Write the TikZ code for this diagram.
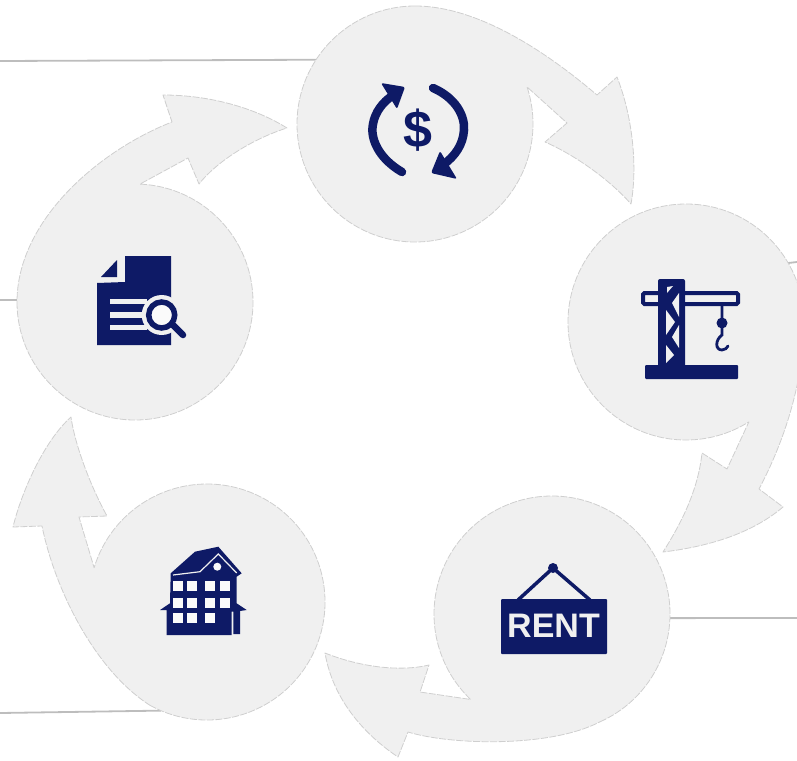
\documentclass[tikz,border=0pt]{standalone}
\usepackage{fontspec}
\setmainfont{Liberation Sans}
\definecolor{navy}{HTML}{0E1A66}
\definecolor{pale}{HTML}{F0F0F0}
\definecolor{rim}{HTML}{CFCFCF}
\definecolor{rule}{HTML}{BDBDBD}
\tikzset{
  unit/.style={fill=pale,draw=rim,line width=0.8pt,dash pattern=on 7pt off 1.5pt,line join=round},
  hub/.style={circle,minimum size=236pt,inner sep=0pt,outer sep=0pt},
  rulerline/.style={draw=rule,line width=1.8pt},
  ink/.style={fill=navy,draw=none},
  inkline/.style={draw=navy,line cap=round},
  hole/.style={fill=pale,draw=none},
  lighthole/.style={fill=white!70!pale,draw=none}
}
\begin{document}
\begin{tikzpicture}[x=1pt,y=-1pt]
\useasboundingbox (0,0) rectangle (797,760);
\clip (0,0) rectangle (797,760);
% hubs
\node[hub] (c1) at (415,124) {};
\node[hub] (c2) at (686,322) {};
\node[hub] (c3) at (552,614) {};
\node[hub] (c4) at (207,602) {};
\node[hub] (c5) at (135,302) {};
% rules
\coordinate (l1) at (0,61);
\coordinate (l2) at (797,262);
\coordinate (l3) at (0,300);
\coordinate (l4) at (797,618);
\coordinate (l5) at (0,713);
\draw[rulerline] (l1) -- (c1.147.7);
\draw[rulerline] (l2) -- (c2.30.6);
\draw[rulerline] (l3) -- (c5.179);
\draw[rulerline] (l4) -- (c3.-2);
\draw[rulerline] (l5) -- (c4.247.6);
% circle + arrow units
\path[unit] (415,6) arc[start angle=270,end angle=-18.3,radius=118]
  -- (567,123) -- (545,142)
  .. controls (575,155) and (610,180) .. (631,204)
  .. controls (638,165) and (632,115) .. (617,77)
  -- (597,95)
  .. controls (550,55) and (480,6) .. (415,6) -- cycle;
\path[unit] (804,322) arc[start angle=0,end angle=-302.2,radius=118]
  -- (727,469) -- (702,453)
  .. controls (698,490) and (682,522) .. (663,552)
  .. controls (705,547) and (750,535) .. (783,507)
  -- (759,489)
  .. controls (785,440) and (804,380) .. (804,322) -- cycle;
\path[unit] (600,721.8) arc[start angle=66,end angle=-226.4,radius=118]
  -- (420,692) -- (429,665)
  .. controls (400,672) and (360,667) .. (325,653)
  .. controls (333,700) and (365,735) .. (398,757)
  -- (408,732)
  .. controls (450,745) and (550,748) .. (600,721.8) -- cycle;
\path[unit] (149.8,705.2) arc[start angle=119,end angle=-163.1,radius=118]
  -- (79,517) -- (107,516)
  .. controls (90,485) and (75,445) .. (71,417)
  .. controls (45,440) and (22,490) .. (13,527)
  -- (42,526)
  .. controls (55,590) and (95,670) .. (149.8,705.2) -- cycle;
\path[unit] (17,302) arc[start angle=180,end angle=-87.6,radius=118]
  -- (188,158) -- (199,184)
  .. controls (218,160) and (255,138) .. (287,128)
  .. controls (255,108) and (210,95) .. (163,95)
  -- (172,122)
  .. controls (100,150) and (17,220) .. (17,302) -- cycle;
% icon 1: dollar refresh
\draw[inkline,line width=8.5pt] (402,172) .. controls (378,158) and (370,138) .. (373,124) .. controls (375,112) and (383,102) .. (392,96);
\fill[ink,rounded corners=2pt] (381,83) -- (405,87) -- (397,109) -- cycle;
\draw[inkline,line width=8.5pt] (433,88) .. controls (456,98) and (465,116) .. (464,130) .. controls (463,145) and (455,156) .. (443,165);
\fill[ink,rounded corners=2pt] (457,179) -- (431,173) -- (440,151) -- cycle;
\node[text=navy,font=\bfseries\fontsize{52}{52}\selectfont,inner sep=0pt] (dollar) at (418,130) {\$};
% icon 2: crane
\draw[draw=navy,line width=4pt,rounded corners=1.5pt,fill=pale] (643,293) rectangle (738,304);
\fill[ink,rounded corners=2pt] (658,279) rectangle (685,368);
\fill[hole] (667,287) -- (673,286) -- (667,293) -- cycle;
\fill[hole] (679,293) -- (679,317) -- (672,303) -- cycle;
\fill[hole] (666,310) -- (675,322) -- (666,335) -- cycle;
\fill[hole] (679,325) -- (679,348) -- (672,337) -- cycle;
\fill[hole] (666,345) -- (674,355) -- (666,363) -- cycle;
\fill[ink,rounded corners=1pt] (645,365) rectangle (738,379);
\draw[inkline,line width=2.8pt] (722,305) -- (722,335) .. controls (715,340) and (715,350) .. (722,350) .. controls (725,350) and (727,348) .. (728,346);
\fill[ink] (722,323) circle (5.5);
% icon 3: rent
\draw[draw=navy,line width=3.5pt,line join=round] (518,600) -- (553,568) -- (590,600);
\fill[ink] (553,568) circle (5);
\fill[ink,rounded corners=1pt] (501,599) rectangle (607,654);
\node[text=pale,font=\bfseries\fontsize{34}{34}\selectfont,inner sep=0pt] (rent) at (553.5,626) {RENT};
% icon 4: house
\fill[ink,line join=round] (170.7,573.3) -- (195,551.7) -- (218.3,546.7) -- (241.7,573.3) -- (236.7,576.7) -- (236.7,603.3) -- (246.7,610) -- (240,611) -- (240,634) -- (233.3,634) -- (233.3,611.7) -- (231.7,611.7) -- (231.7,635) -- (166.7,635) -- (166.7,610) -- (160,610) -- (170,603.3) -- cycle;
\draw[draw=pale,line width=1.2pt] (173,575) -- (200,571.7) -- (218.3,554) -- (236.7,573);
\fill[lighthole] (217.3,566.7) circle (4);
\foreach \wx in {178.3,191.7,210,225}{
  \foreach \wy in {586,602.7}{
    \fill[lighthole] (\wx-5,\wy-5) rectangle (\wx+5,\wy+5);
  }
}
\foreach \wx in {178.3,191.7,210}{
  \fill[lighthole] (\wx-5,618.3-5) rectangle (\wx+5,618.3+5);
}
% icon 5: document
\fill[ink] (125,256) -- (171,256) -- (171,345) -- (97,345) -- (97,283) -- (125,282) -- cycle;
\fill[ink] (101,277) -- (117,260) -- (117,277) -- cycle;
\fill[hole] (161.7,315) circle (20);
\draw[draw=pale,line width=12pt,line cap=round] (175,327) -- (183,335);
\draw[draw=pale,line width=5.5pt] (110,301.7) -- (147,301.7);
\draw[draw=pale,line width=5.5pt] (110,315) -- (143,315);
\draw[draw=pale,line width=5.5pt] (110,327.3) -- (147,327.3);
\fill[lighthole] (161.7,315) circle (11);
\draw[draw=navy,line width=5.5pt] (161.7,315) circle (13);
\draw[inkline,line width=6.5pt] (173,325) -- (183,335);
\end{tikzpicture}
\end{document}
